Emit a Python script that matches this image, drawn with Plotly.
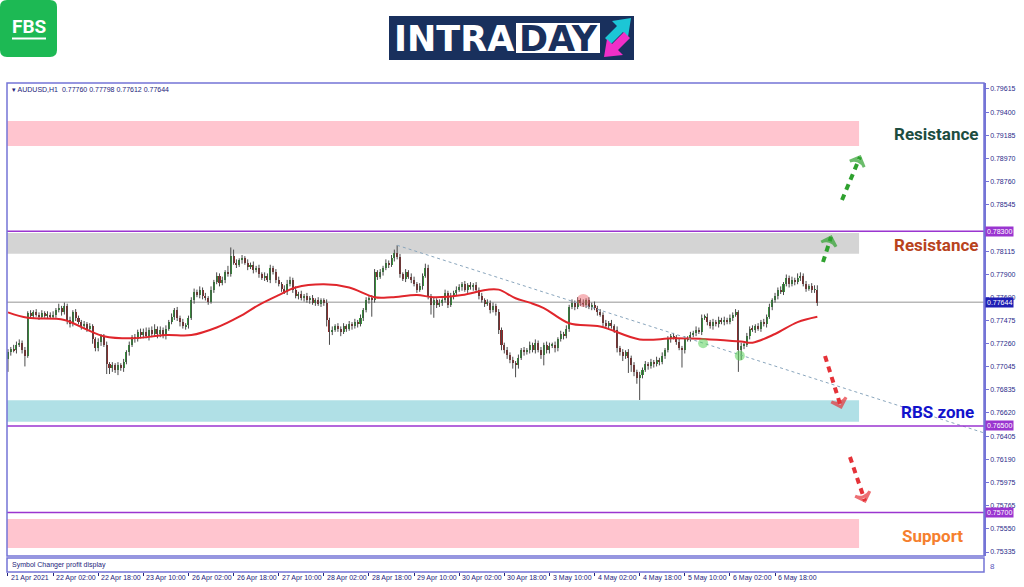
import plotly.graph_objects as go

# ---------------- data (prices in pips: 7766 -> 0.7766) ----------------
first_open_pips = 7712
close_pips = [
    7718,7721,7720,7725,7727,7720,7715,7754,7752,7755,7753,7751,7754,7752,7753,7751,
    7753,7757,7759,7755,7761,7748,7744,7755,7750,7746,7742,7744,7740,7742,7730,7722,
    7728,7733,7725,7707,7704,7706,7702,7706,7704,7709,7718,7725,7732,7730,7737,7734,
    7737,7733,7739,7735,7740,7735,7739,7733,7740,7746,7751,7757,7750,7746,7742,7743,
    7750,7766,7774,7771,7776,7770,7768,7765,7776,7783,7789,7782,7785,7792,7790,7807,
    7801,7799,7803,7805,7801,7797,7799,7794,7796,7790,7787,7789,7785,7796,7792,7785,
    7781,7777,7774,7781,7785,7776,7770,7772,7768,7770,7766,7768,7764,7766,7763,7766,
    7764,7748,7737,7739,7742,7740,7737,7742,7740,7744,7742,7746,7744,7750,7757,7766,
    7768,7766,7792,7788,7792,7796,7801,7799,7805,7810,7806,7790,7786,7792,7788,7785,
    7781,7776,7779,7789,7796,7770,7762,7766,7762,7764,7766,7773,7762,7770,7773,7776,
    7778,7781,7776,7780,7778,7780,7776,7770,7766,7763,7764,7757,7761,7755,7739,7725,
    7720,7716,7711,7708,7706,7713,7720,7718,7720,7725,7720,7727,7720,7716,7725,7720,
    7724,7725,7722,7730,7735,7733,7740,7760,7764,7760,7766,7764,7762,7766,7760,7762,
    7759,7755,7753,7745,7742,7745,7742,7739,7722,7718,7715,7718,7713,7706,7700,7694,
    7697,7702,7707,7705,7709,7707,7711,7709,7715,7720,7730,7733,7732,7728,7722,7720,
    7730,7731,7734,7736,7739,7737,7750,7751,7746,7742,7746,7744,7748,7746,7748,7746,
    7750,7753,7755,7720,7724,7725,7733,7740,7739,7742,7740,7746,7744,7751,7760,7766,
    7770,7776,7774,7781,7787,7781,7785,7783,7787,7789,7781,7777,7779,7776,7776,7764,
]
upper_wick_pips = [
    3,2,4,3,3,2,3,2,3,2,3,2,3,2,3,2,
    3,2,4,2,3,2,3,2,3,2,2,3,2,3,2,2,
    3,2,2,3,2,3,2,3,2,3,2,3,2,3,2,3,
    3,4,2,3,4,2,3,2,3,2,3,2,3,2,3,2,
    2,3,3,2,3,2,3,2,3,2,3,2,3,2,6,8,
    6,3,2,3,2,3,2,3,2,3,2,3,2,3,2,3,
    3,2,3,4,3,2,3,2,3,2,3,2,3,2,3,2,
    2,3,2,3,2,3,2,3,2,3,2,3,2,3,2,3,
    2,3,3,2,3,2,3,2,3,3,7,3,2,3,2,3,
    3,2,3,2,4,3,2,3,2,3,2,3,2,3,2,3,
    3,2,3,2,3,2,3,2,3,2,3,2,3,2,3,2,
    2,3,2,3,2,3,2,3,2,3,2,3,2,3,2,3,
    3,2,3,2,3,2,3,2,3,2,3,2,3,2,3,2,
    3,2,3,2,3,2,3,2,3,2,3,2,3,2,3,2,
    3,2,3,2,3,2,3,2,3,2,3,2,3,2,3,2,
    3,2,3,2,3,2,3,2,3,2,3,2,3,2,3,2,
    3,2,3,2,3,2,3,2,3,2,3,2,3,2,3,2,
    3,2,3,2,3,2,3,2,4,3,2,3,2,3,4,4,
]
lower_wick_pips = [
    12,3,2,3,2,3,10,2,2,3,2,3,2,2,3,2,
    2,3,2,3,2,4,3,2,3,2,3,2,3,2,4,3,
    3,4,2,9,6,4,3,5,3,4,2,3,2,3,2,3,
    3,2,4,3,2,4,3,2,3,2,2,3,3,4,2,3,
    3,2,3,2,3,3,2,3,2,3,2,3,2,3,2,2,
    2,3,2,3,2,3,2,3,2,3,2,3,2,3,2,3,
    2,3,2,3,2,3,2,3,2,3,2,3,2,3,2,3,
    3,6,12,3,2,3,4,2,3,2,3,2,3,2,3,2,
    3,15,2,3,2,3,2,3,2,3,2,3,2,3,2,3,
    2,3,2,3,2,3,9,12,3,2,3,2,3,2,3,2,
    2,3,2,3,2,3,2,3,2,3,2,3,2,3,4,5,
    3,4,3,5,11,3,2,3,2,3,2,3,2,4,10,3,
    3,2,4,3,2,3,2,3,2,3,2,3,2,3,2,3,
    2,3,2,3,2,3,2,3,4,3,5,3,14,6,4,5,
    20,3,2,3,2,3,2,3,2,3,2,3,2,3,2,16,
    3,2,3,2,3,2,3,2,3,2,3,2,3,2,3,2,
    2,3,2,20,9,3,2,3,2,3,2,3,2,3,2,3,
    2,3,2,3,2,3,2,3,2,3,2,3,2,3,3,3,
]

# moving average (red line) read at selected bars
ma_bars = [0,7,20,28,34,44,56,65,74,82,89,96,102,112,121,130,136,145,151,161,
           170,174,180,185,190,199,210,224,236,249,260,264,272,280,287]
ma_pips = [7755,7750,7748,7739,7733,7731,7734,7734,7741,7751,7762,7771,7778,7781,7778,7769,7769,7771,7769,7771,
           7776,7776,7768,7764,7759,7745,7742,7730,7731,7730,7728,7727,7735,7746,7751]

# time axis labels (every 16 H1 bars)
time_labels = ["21 Apr 2021","22 Apr 02:00","22 Apr 18:00","23 Apr 10:00","26 Apr 02:00","26 Apr 18:00",
               "27 Apr 10:00","28 Apr 02:00","28 Apr 18:00","29 Apr 10:00","30 Apr 02:00","30 Apr 18:00",
               "3 May 10:00","4 May 02:00","4 May 18:00","5 May 10:00","6 May 02:00","6 May 18:00"]
label_step = 16

price_ticks = [0.79615,0.79400,0.79185,0.78970,0.78760,0.78545,0.78330,0.78115,0.77900,0.77690,0.77475,
               0.77260,0.77045,0.76835,0.76620,0.76405,0.76190,0.75975,0.75765,0.75550,0.75335]
hidden_ticks = [0.78330]   # fully covered by the 0.78300 level box in the reference

# zones (price bottom, top), levels
zone_resistance2 = (0.79088, 0.79319)
zone_resistance1 = (0.78092, 0.78284)
zone_rbs = (0.76540, 0.76738)
zone_support = (0.75372, 0.75640)
level_purple = [0.78300, 0.76500, 0.75700]
current_price = 0.77644
trend_start = (138, 0.78170)
trend_end = (346.1, 0.76436)

# ---------------- derived ----------------
n = len(close_pips)
bars = list(range(n))
opens, highs, lows, closes = [], [], [], []
prev = first_open_pips
for i in range(n):
    o, c = prev, close_pips[i]
    opens.append(o / 1e4)
    closes.append(c / 1e4)
    highs.append((max(o, c) + upper_wick_pips[i]) / 1e4)
    lows.append((min(o, c) - lower_wick_pips[i]) / 1e4)
    prev = c

# ---------------- geometry helpers (pixel -> paper) ----------------
W, H = 1024, 587
PL, PR, PT, PB = 7, 984, 83, 572
def fx(x): return (x - PL) / (PR - PL)
def fy(y): return (PB - y) / (PB - PT)
MAIN_BOTTOM = 556
XMIN, XMAX = -0.35, 346.1
YMIN, YMAX = 0.75298, 0.79670

fig = go.Figure()

# wicks
wx, wy = [], []
for i in range(n):
    wx += [i, i, None]
    wy += [lows[i], highs[i], None]
fig.add_trace(go.Scatter(x=wx, y=wy, mode="lines", line=dict(color="#4a4a4a", width=1),
                         hoverinfo="skip", showlegend=False))
# bodies
body_h, body_b, body_c = [], [], []
for i in range(n):
    o, c = opens[i], closes[i]
    body_b.append(min(o, c))
    body_h.append(max(abs(c - o), 0.00003))
    body_c.append("#35973a" if c >= o else "#8e2a2a")
fig.add_trace(go.Bar(x=bars, y=body_h, base=body_b, width=0.72, marker=dict(color=body_c, line=dict(width=0)),
                     showlegend=False, hoverinfo="skip"))
# moving average
fig.add_trace(go.Scatter(x=ma_bars, y=[v / 1e4 for v in ma_pips], mode="lines",
                         line=dict(color="#e0262c", width=2, shape="spline", smoothing=1.0),
                         showlegend=False, hoverinfo="skip"))
# trend line
fig.add_trace(go.Scatter(x=[trend_start[0], trend_end[0]], y=[trend_start[1], trend_end[1]], mode="lines",
                         line=dict(color="#8aa6bd", width=1, dash="dot"), showlegend=False, hoverinfo="skip"))
# highlight blobs
fig.add_trace(go.Scatter(x=[204], y=[0.77660], mode="markers",
                         marker=dict(size=13, color="rgba(235,90,100,0.45)"), showlegend=False, hoverinfo="skip"))
fig.add_trace(go.Scatter(x=[246.5, 259.5], y=[0.77265, 0.77150], mode="markers",
                         marker=dict(size=10, color="rgba(90,210,90,0.55)"), showlegend=False, hoverinfo="skip"))

# dashed arrows
def xb(px_):
    return (px_ - 8) / 2.8234
def yp(py_):
    return YMAX - (py_ - PT) * (YMAX - YMIN) / (MAIN_BOTTOM - PT)
arrows = [((843, 200), (861, 157), "#2ea12e"),
          ((824, 262), (832, 237), "#2ea12e"),
          ((826, 356), (842, 407), "#e53238"),
          ((851, 457), (866, 501), "#e53238")]
for (x0, y0), (x1, y1), col in arrows:
    fig.add_trace(go.Scatter(x=[xb(x0), xb(x1)], y=[yp(y0), yp(y1)], mode="lines+markers",
                             line=dict(color=col, width=4, dash="6px,5px"),
                             marker=dict(symbol=["circle", "arrow-wide-open"], size=[0, 11], angleref="previous",
                                         color=col, line=dict(color=col, width=3)),
                             showlegend=False, hoverinfo="skip", cliponaxis=False))

shapes = []
# zones
for (lo, hi), col in [(zone_resistance2, "#ffc5cf"), (zone_resistance1, "#d4d4d4"),
                      (zone_rbs, "#b0e0e6"), (zone_support, "#ffc5cf")]:
    shapes.append(dict(type="rect", xref="x", yref="y", x0=XMIN, x1=301.8, y0=lo, y1=hi,
                       fillcolor=col, line=dict(width=0), layer="below"))
# current price line
shapes.append(dict(type="line", xref="paper", yref="y", x0=0, x1=1, y0=current_price, y1=current_price,
                   line=dict(color="#b8b8b8", width=1.5), layer="below"))
# purple levels
for lv in level_purple:
    shapes.append(dict(type="line", xref="paper", yref="y", x0=0, x1=1, y0=lv, y1=lv,
                       line=dict(color="#9a35d0", width=1.6)))
# frames
frame_col = "#7474d6"
shapes.append(dict(type="rect", xref="paper", yref="paper", x0=0, x1=1, y0=fy(MAIN_BOTTOM), y1=1,
                   line=dict(color=frame_col, width=1.5)))
shapes.append(dict(type="rect", xref="paper", yref="paper", x0=0, x1=1, y0=0, y1=fy(558),
                   line=dict(color=frame_col, width=1.5)))

# FBS logo (rounded green square)
def rrect(x0, y0, x1, y1, r):
    p = [f"M {fx(x0+r)},{fy(y0)}", f"L {fx(x1-r)},{fy(y0)}", f"Q {fx(x1)},{fy(y0)} {fx(x1)},{fy(y0+r)}",
         f"L {fx(x1)},{fy(y1-r)}", f"Q {fx(x1)},{fy(y1)} {fx(x1-r)},{fy(y1)}",
         f"L {fx(x0+r)},{fy(y1)}", f"Q {fx(x0)},{fy(y1)} {fx(x0)},{fy(y1-r)}",
         f"L {fx(x0)},{fy(y0+r)}", f"Q {fx(x0)},{fy(y0)} {fx(x0+r)},{fy(y0)}", "Z"]
    return " ".join(p)
def poly(pts):
    return "M " + " L ".join(f"{fx(a)},{fy(b)}" for a, b in pts) + " Z"
shapes.append(dict(type="path", xref="paper", yref="paper", path=rrect(0, 0, 57, 57, 7),
                   fillcolor="#1db954", line=dict(width=0)))
shapes.append(dict(type="rect", xref="paper", yref="paper", x0=fx(12), x1=fx(46), y0=fy(39.5), y1=fy(37.5),
                   fillcolor="white", line=dict(width=0)))
# INTRADAY logo
shapes.append(dict(type="rect", xref="paper", yref="paper", x0=fx(389), x1=fx(634), y0=fy(60), y1=fy(16),
                   fillcolor="#19305d", line=dict(width=0)))
shapes.append(dict(type="rect", xref="paper", yref="paper", x0=fx(516), x1=fx(600), y0=fy(53), y1=fy(23),
                   fillcolor="white", line=dict(width=0)))
shapes.append(dict(type="path", xref="paper", yref="paper",
                   path=poly([(631, 18), (628, 37), (623, 32), (611, 44), (605, 38), (617, 26), (612, 21)]),
                   fillcolor="#1cc6d6", line=dict(width=0)))
shapes.append(dict(type="path", xref="paper", yref="paper",
                   path=poly([(604, 57), (607, 39), (612, 44), (624, 32), (630, 38), (618, 50), (623, 55)]),
                   fillcolor="#f02fc8", line=dict(width=0)))

ann = []
# x tick labels
for k, t in enumerate(time_labels):
    ann.append(dict(x=k * label_step + 0.4, xref="x", y=fy(577.5), yref="paper", text=t, showarrow=False,
                    xanchor="left", yanchor="middle", font=dict(family="Liberation Sans", size=7, color="#23237a")))
# price boxes on right axis
for lv, bg in [(0.78300, "#9a35d0"), (current_price, "#1f1fb4"), (0.76500, "#9a35d0"), (0.75700, "#9a35d0")]:
    ann.append(dict(x=1, xref="paper", xshift=1, y=lv, yref="y", text=f"{lv:.5f}", showarrow=False,
                    xanchor="left", yanchor="middle", bgcolor=bg, borderpad=1,
                    font=dict(family="Liberation Sans", size=7, color="white")))
# zone labels
for txt, xx, yy, col in [("Resistance", 936, 0.79199, "#1d4d3f"), ("Resistance", 936, 0.78173, "#b8431d"),
                         ("RBS zone", 937, 0.76629, "#1212cc"), ("Support", 932, 0.75483, "#f57f2e")]:
    ann.append(dict(x=fx(xx), xref="paper", y=yy, yref="y", text=f"<b>{txt}</b>",
                    showarrow=False, xanchor="center", yanchor="middle",
                    font=dict(family="Roboto", size=17, color=col)))
# header texts
ann.append(dict(x=fx(10), xref="paper", y=fy(89), yref="paper", text="▾ AUDUSD,H1  0.77760 0.77798 0.77612 0.77644",
                showarrow=False, xanchor="left", yanchor="middle",
                font=dict(family="Liberation Sans", size=7, color="#23237a")))
ann.append(dict(x=fx(10), xref="paper", y=fy(565), yref="paper", text="Symbol Changer profit display",
                showarrow=False, xanchor="left", yanchor="middle",
                font=dict(family="Liberation Sans", size=7, color="#23237a")))
ann.append(dict(x=fx(988), xref="paper", y=fy(566), yref="paper", text="8", showarrow=False,
                xanchor="left", yanchor="middle", font=dict(family="Liberation Sans", size=8, color="#5555bb")))
# logos text
ann.append(dict(x=fx(29), xref="paper", y=fy(26), yref="paper", text="<b>FBS</b>", showarrow=False,
                xanchor="center", yanchor="middle", font=dict(family="Roboto", size=19, color="white")))
ann.append(dict(x=fx(454), xref="paper", y=fy(39), yref="paper", text="<b>INTRA</b>", showarrow=False,
                xanchor="center", yanchor="middle", font=dict(family="DejaVu Sans", size=35, color="white")))
ann.append(dict(x=fx(558), xref="paper", y=fy(39), yref="paper", text="<b>DAY</b>", showarrow=False,
                xanchor="center", yanchor="middle", font=dict(family="DejaVu Sans", size=35, color="#19305d")))

fig.update_layout(
    width=W, height=H, autosize=False,
    margin=dict(l=PL, r=W - PR, t=PT, b=H - PB, pad=0),
    paper_bgcolor="white", plot_bgcolor="white",
    showlegend=False, bargap=0,
    shapes=shapes, annotations=ann,
    xaxis=dict(range=[XMIN, XMAX], anchor="free", position=0, showgrid=False, zeroline=False,
               showline=False, ticks="outside", ticklen=3, tickcolor="#23237a",
               tickvals=[k * label_step for k in range(len(time_labels))], showticklabels=False, fixedrange=True),
    yaxis=dict(range=[YMIN, YMAX], domain=[fy(MAIN_BOTTOM), 1], side="right", showgrid=False, zeroline=False,
               showline=True, linecolor=frame_col, linewidth=1.5, ticks="outside", ticklen=3, tickcolor=frame_col,
               tickvals=price_ticks,
               ticktext=["" if v in hidden_ticks else f"{v:.5f}" for v in price_ticks],
               tickfont=dict(family="Liberation Sans", size=7, color="#2b2b8a"), fixedrange=True),
)

fig.write_html("out.html", config={"displayModeBar": False},
               post_script="document.body.style.margin='0';document.body.style.overflow='hidden';")
